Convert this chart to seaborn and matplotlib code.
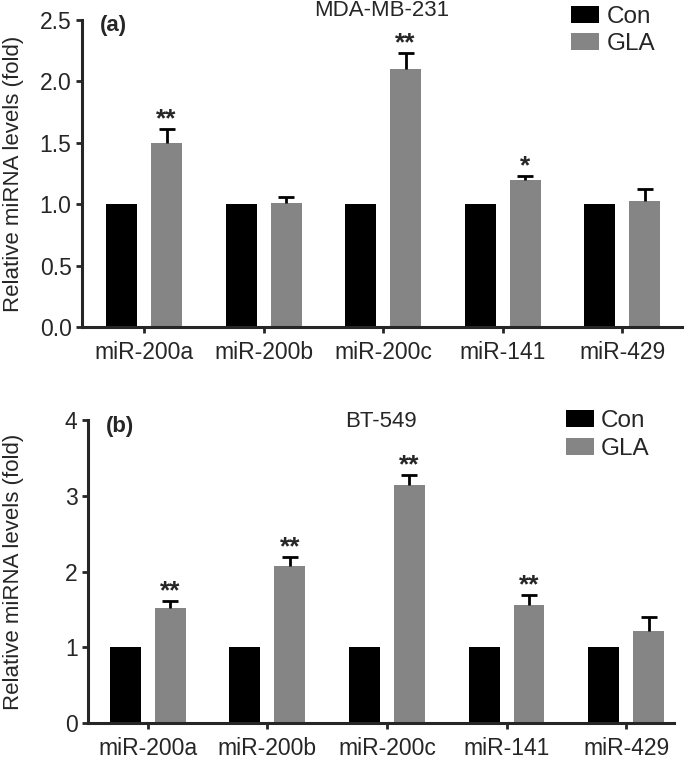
import pandas as pd
import matplotlib
matplotlib.use("Agg")
import matplotlib.pyplot as plt
import seaborn as sns

# Data
mirnas = ['miR-200a', 'miR-200b', 'miR-200c', 'miR-141', 'miR-429']
groups = ['Con', 'GLA']

con_a = [1.0, 1.0, 1.0, 1.0, 1.0]
gla_a = [1.50, 1.01, 2.10, 1.20, 1.03]
gla_a_err = [0.11, 0.05, 0.13, 0.03, 0.09]
stars_a = ['**', '', '**', '*', '']

con_b = [1.0, 1.0, 1.0, 1.0, 1.0]
gla_b = [1.52, 2.07, 3.15, 1.56, 1.21]
gla_b_err = [0.09, 0.12, 0.13, 0.13, 0.19]
stars_b = ['**', '**', '**', '**', '']

colors = {'Con': '#000000', 'GLA': '#858585'}

sns.set_style("ticks")
plt.rcParams['font.family'] = ['Liberation Sans', 'DejaVu Sans']


def make_df(con, gla):
    rows = []
    for m, c, g in zip(mirnas, con, gla):
        rows.append({'miRNA': m, 'group': 'Con', 'value': c})
        rows.append({'miRNA': m, 'group': 'GLA', 'value': g})
    return pd.DataFrame(rows)


def draw_panel(ax, con, gla, err, stars, title, tag, ylim, yticks, ytick_labels,
               xlim, title_y, tag_y, legend_y, label_x):
    df = make_df(con, gla)
    sns.barplot(data=df, x='miRNA', y='value', hue='group', hue_order=groups,
                palette=colors, width=0.75, gap=0.31, errorbar=None,
                linewidth=0, ax=ax)

    # upper-only error bars and significance marks on the GLA bars
    gla_bars = ax.containers[1]
    for bar, v, e, s in zip(gla_bars, gla, err, stars):
        xc = bar.get_x() + bar.get_width() / 2
        eb = ax.errorbar(xc, v, yerr=[[0], [e]], fmt='none', ecolor='black',
                         elinewidth=2, capsize=5.5, capthick=2, zorder=3)
        for cap in eb[1]:
            if cap.get_ydata()[0] <= v + 1e-9:
                cap.set_visible(False)
        if s:
            ax.annotate(s, (xc, v + e), xytext=(0, 2), textcoords='offset points',
                        ha='center', va='baseline', fontsize=19, fontweight='bold')

    ax.set_ylim(*ylim)
    ax.set_yticks(yticks)
    ax.set_yticklabels(ytick_labels)
    ax.set_xlim(*xlim)
    ax.set_xlabel('')
    ax.set_ylabel('Relative miRNA levels (fold)', fontsize=16)
    ax.yaxis.set_label_coords(label_x, 0.5)

    sns.despine(ax=ax)
    for sp in ['left', 'bottom']:
        ax.spines[sp].set_linewidth(2.2)
    ax.tick_params(axis='both', labelsize=16.5, width=2, length=4, direction='out')
    ax.tick_params(axis='x', pad=6)

    ax.text(0.5, title_y, title, transform=ax.transAxes, ha='center',
            va='center', fontsize=16)
    ax.text(0.03, tag_y, tag, transform=ax.transAxes, ha='left', va='center',
            fontsize=16, fontweight='bold')

    handles, labels = ax.get_legend_handles_labels()
    ax.legend(handles, labels, loc='upper left', bbox_to_anchor=(0.815, legend_y),
              frameon=False, fontsize=17.5, borderaxespad=0, borderpad=0,
              handlelength=1.15, handleheight=0.7, handletextpad=0.3,
              labelspacing=0.22)


fig = plt.figure(figsize=(6.89, 7.61), dpi=100)
ax_a = fig.add_axes([0.119, 0.5703, 0.871, 0.4034])
ax_b = fig.add_axes([0.1277, 0.0499, 0.8505, 0.398])

draw_panel(ax_a, con_a, gla_a, gla_a_err, stars_a, 'MDA-MB-231', '(a)',
           (0, 2.5), [0, 0.5, 1.0, 1.5, 2.0, 2.5],
           ['0.0', '0.5', '1.0', '1.5', '2.0', '2.5'],
           (-0.52, 4.5), 1.03, 0.982, 1.047, -0.097)
draw_panel(ax_b, con_b, gla_b, gla_b_err, stars_b, 'BT-549', '(b)',
           (0, 4), [0, 1, 2, 3, 4], ['0', '1', '2', '3', '4'],
           (-0.5, 4.4), 0.997, 0.978, 1.032, -0.109)

fig.savefig('out.png', dpi=100)
